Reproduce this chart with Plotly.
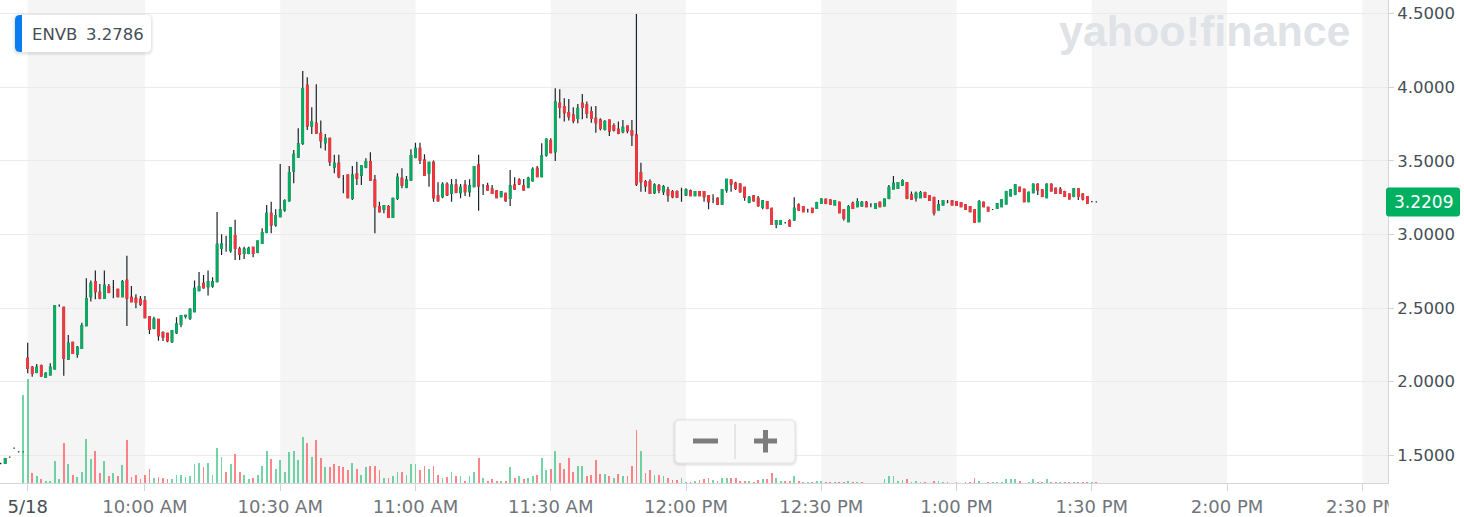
import plotly.graph_objects as go
import pandas as pd

# ---------------- data ----------------
FIRST_BAR = "2021-05-18 09:28"          # one-minute candles, 6 pre-open bars then the session
SESSION_OPEN_BAR = "2021-05-18 09:34"

opens = [
    1.445, 1.445, 1.487, 1.549, 1.523, 1.523,
    2.159, 2.098, 2.064, 2.109, 2.030, 2.046, 2.087, 2.520, 2.505, 2.154,
    2.268, 2.188, 2.227, 2.381, 2.578, 2.680, 2.607, 2.567, 2.646, 2.640,
    2.628, 2.578, 2.689, 2.573, 2.567, 2.560, 2.551, 2.442, 2.363, 2.424,
    2.333, 2.329, 2.272, 2.333, 2.390, 2.445, 2.431, 2.476, 2.619, 2.668,
    2.646, 2.650, 2.680, 2.906, 2.930, 2.890, 2.992, 2.901, 2.872, 2.872,
    2.913, 2.879, 2.940, 3.015, 3.144, 3.065, 3.121, 3.167, 3.230, 3.432,
    3.525, 3.620, 4.014, 3.737, 3.755, 3.688, 3.624, 3.654, 3.457, 3.484,
    3.380, 3.404, 3.246, 3.411, 3.404, 3.457, 3.495, 3.370, 3.189, 3.171,
    3.189, 3.117, 3.246, 3.382, 3.321, 3.370, 3.524, 3.586, 3.506, 3.416,
    3.490, 3.262, 3.257, 3.341, 3.280, 3.336, 3.284, 3.336, 3.291, 3.325,
    3.472, 3.330, 3.330, 3.309, 3.296, 3.257, 3.280, 3.246, 3.336, 3.370,
    3.330, 3.321, 3.366, 3.450, 3.393, 3.540, 3.638, 3.563, 3.891, 3.869,
    3.828, 3.812, 3.789, 3.891, 3.880, 3.835, 3.789, 3.778, 3.715, 3.778,
    3.740, 3.715, 3.699, 3.737, 3.706, 3.676, 3.420, 3.359, 3.359, 3.284,
    3.330, 3.291, 3.303, 3.291, 3.291, 3.300, 3.269, 3.296, 3.264, 3.291,
    3.291, 3.262, 3.240, 3.246, 3.207, 3.303, 3.370, 3.348, 3.343, 3.321,
    3.219, 3.262, 3.246, 3.185, 3.223, 3.178, 3.069, 3.069, 3.080, 3.094,
    3.099, 3.201, 3.189, 3.170, 3.178, 3.178, 3.212, 3.239, 3.234, 3.201,
    3.219, 3.167, 3.088, 3.212, 3.190, 3.194, 3.219, 3.205, 3.178, 3.219,
    3.194, 3.246, 3.310, 3.314, 3.337, 3.352, 3.269, 3.251, 3.251, 3.285,
    3.262, 3.251, 3.167, 3.201, 3.220, 3.228, 3.224, 3.217, 3.201, 3.190,
    3.167, 3.088, 3.219, 3.185, 3.170, 3.178, 3.190, 3.208, 3.262, 3.274,
    3.321, 3.307, 3.224, 3.285, 3.341, 3.303, 3.251, 3.341, 3.314, 3.307,
    3.292, 3.274, 3.258, 3.310, 3.274, 3.258, 3.224, 3.221,
]
highs = [
    1.447, 1.482, 1.492, 1.553, 1.527, 1.526,
    2.265, 2.107, 2.120, 2.116, 2.064, 2.125, 2.521, 2.525, 2.510, 2.318,
    2.272, 2.243, 2.401, 2.702, 2.687, 2.755, 2.664, 2.755, 2.664, 2.691,
    2.632, 2.691, 2.856, 2.650, 2.594, 2.583, 2.583, 2.447, 2.442, 2.428,
    2.342, 2.333, 2.351, 2.437, 2.453, 2.455, 2.499, 2.687, 2.745, 2.725,
    2.755, 2.709, 3.153, 3.001, 2.992, 3.047, 3.101, 2.917, 2.917, 2.917,
    2.917, 2.958, 3.042, 3.201, 3.223, 3.171, 3.479, 3.239, 3.466, 3.574,
    3.721, 4.111, 4.068, 3.864, 4.020, 3.774, 3.683, 3.654, 3.541, 3.541,
    3.404, 3.404, 3.466, 3.495, 3.466, 3.518, 3.558, 3.404, 3.223, 3.196,
    3.201, 3.250, 3.416, 3.450, 3.398, 3.579, 3.624, 3.624, 3.545, 3.490,
    3.502, 3.355, 3.355, 3.355, 3.377, 3.377, 3.343, 3.370, 3.375, 3.466,
    3.541, 3.343, 3.352, 3.336, 3.303, 3.296, 3.284, 3.438, 3.389, 3.382,
    3.377, 3.393, 3.457, 3.466, 3.620, 3.654, 3.654, 3.993, 3.986, 3.925,
    3.921, 3.864, 3.887, 3.955, 3.903, 3.869, 3.873, 3.789, 3.778, 3.778,
    3.755, 3.767, 3.778, 3.737, 3.778, 4.498, 3.488, 3.370, 3.375, 3.348,
    3.343, 3.336, 3.325, 3.303, 3.300, 3.318, 3.314, 3.305, 3.296, 3.296,
    3.296, 3.269, 3.273, 3.253, 3.307, 3.375, 3.375, 3.359, 3.348, 3.325,
    3.262, 3.269, 3.262, 3.235, 3.228, 3.182, 3.099, 3.099, 3.085, 3.103,
    3.253, 3.212, 3.194, 3.175, 3.182, 3.223, 3.246, 3.245, 3.240, 3.235,
    3.224, 3.171, 3.201, 3.224, 3.246, 3.228, 3.228, 3.212, 3.212, 3.224,
    3.242, 3.337, 3.398, 3.355, 3.375, 3.357, 3.292, 3.292, 3.296, 3.290,
    3.267, 3.258, 3.235, 3.235, 3.235, 3.232, 3.228, 3.221, 3.205, 3.194,
    3.172, 3.235, 3.224, 3.189, 3.174, 3.212, 3.240, 3.298, 3.307, 3.341,
    3.326, 3.312, 3.292, 3.348, 3.348, 3.307, 3.348, 3.348, 3.319, 3.323,
    3.297, 3.279, 3.316, 3.312, 3.280, 3.262, 3.227, 3.224,
]
lows = [
    1.440, 1.443, 1.483, 1.545, 1.520, 1.520,
    2.057, 2.034, 2.057, 2.034, 2.028, 2.046, 2.087, 2.510, 2.041, 2.154,
    2.188, 2.163, 2.227, 2.381, 2.544, 2.560, 2.560, 2.567, 2.601, 2.567,
    2.573, 2.573, 2.379, 2.539, 2.499, 2.515, 2.435, 2.324, 2.356, 2.279,
    2.277, 2.268, 2.263, 2.324, 2.370, 2.430, 2.419, 2.476, 2.619, 2.632,
    2.585, 2.639, 2.680, 2.861, 2.883, 2.876, 2.827, 2.827, 2.834, 2.865,
    2.845, 2.872, 2.940, 3.008, 3.008, 3.053, 3.121, 3.155, 3.223, 3.348,
    3.525, 3.608, 3.710, 3.683, 3.683, 3.586, 3.570, 3.466, 3.416, 3.382,
    3.280, 3.250, 3.235, 3.336, 3.336, 3.450, 3.370, 3.008, 3.149, 3.144,
    3.117, 3.117, 3.235, 3.314, 3.314, 3.366, 3.518, 3.479, 3.404, 3.325,
    3.223, 3.223, 3.246, 3.262, 3.223, 3.280, 3.246, 3.262, 3.257, 3.321,
    3.162, 3.269, 3.298, 3.275, 3.246, 3.253, 3.223, 3.194, 3.302, 3.336,
    3.298, 3.314, 3.359, 3.389, 3.389, 3.529, 3.552, 3.500, 3.789, 3.767,
    3.774, 3.755, 3.755, 3.783, 3.789, 3.760, 3.692, 3.706, 3.706, 3.669,
    3.699, 3.681, 3.688, 3.688, 3.601, 3.330, 3.291, 3.291, 3.275, 3.275,
    3.280, 3.269, 3.223, 3.246, 3.250, 3.223, 3.262, 3.260, 3.260, 3.260,
    3.223, 3.171, 3.212, 3.201, 3.201, 3.284, 3.291, 3.303, 3.284, 3.230,
    3.212, 3.223, 3.189, 3.171, 3.171, 3.065, 3.042, 3.065, 3.075, 3.053,
    3.094, 3.160, 3.151, 3.150, 3.144, 3.173, 3.207, 3.205, 3.200, 3.198,
    3.144, 3.095, 3.088, 3.173, 3.185, 3.189, 3.185, 3.185, 3.175, 3.185,
    3.190, 3.240, 3.310, 3.310, 3.330, 3.240, 3.235, 3.224, 3.246, 3.249,
    3.227, 3.129, 3.163, 3.197, 3.212, 3.197, 3.193, 3.186, 3.168, 3.152,
    3.079, 3.088, 3.185, 3.156, 3.166, 3.174, 3.185, 3.203, 3.258, 3.267,
    3.287, 3.219, 3.219, 3.280, 3.269, 3.253, 3.246, 3.292, 3.276, 3.276,
    3.254, 3.238, 3.253, 3.235, 3.231, 3.208, 3.220, 3.218,
]
closes = [
    1.445, 1.478, 1.487, 1.549, 1.523, 1.523,
    2.091, 2.057, 2.098, 2.039, 2.057, 2.098, 2.517, 2.520, 2.159, 2.261,
    2.193, 2.234, 2.381, 2.564, 2.668, 2.612, 2.567, 2.655, 2.607, 2.640,
    2.578, 2.678, 2.567, 2.544, 2.539, 2.526, 2.435, 2.356, 2.426, 2.313,
    2.302, 2.279, 2.347, 2.392, 2.449, 2.450, 2.492, 2.635, 2.646, 2.639,
    2.678, 2.678, 2.933, 2.935, 2.930, 3.047, 2.906, 2.865, 2.901, 2.906,
    2.872, 2.956, 3.013, 3.144, 3.065, 3.128, 3.167, 3.230, 3.420, 3.545,
    3.615, 3.991, 3.737, 3.767, 3.688, 3.638, 3.654, 3.495, 3.484, 3.393,
    3.380, 3.250, 3.404, 3.382, 3.466, 3.495, 3.370, 3.189, 3.155, 3.196,
    3.117, 3.246, 3.389, 3.336, 3.370, 3.536, 3.586, 3.506, 3.404, 3.490,
    3.250, 3.230, 3.341, 3.269, 3.336, 3.287, 3.321, 3.291, 3.330, 3.461,
    3.330, 3.330, 3.303, 3.280, 3.250, 3.289, 3.230, 3.330, 3.309, 3.343,
    3.303, 3.382, 3.443, 3.393, 3.534, 3.647, 3.556, 3.900, 3.864, 3.828,
    3.801, 3.774, 3.857, 3.864, 3.823, 3.789, 3.760, 3.721, 3.767, 3.703,
    3.710, 3.688, 3.728, 3.706, 3.676, 3.343, 3.359, 3.330, 3.280, 3.336,
    3.303, 3.325, 3.269, 3.257, 3.253, 3.300, 3.303, 3.264, 3.291, 3.264,
    3.257, 3.223, 3.240, 3.207, 3.303, 3.375, 3.343, 3.314, 3.291, 3.253,
    3.253, 3.230, 3.196, 3.228, 3.178, 3.069, 3.094, 3.094, 3.080, 3.058,
    3.178, 3.167, 3.155, 3.170, 3.151, 3.216, 3.241, 3.212, 3.207, 3.230,
    3.149, 3.110, 3.190, 3.178, 3.224, 3.219, 3.190, 3.205, 3.208, 3.190,
    3.240, 3.321, 3.348, 3.352, 3.366, 3.246, 3.240, 3.280, 3.285, 3.253,
    3.231, 3.149, 3.201, 3.231, 3.220, 3.201, 3.197, 3.190, 3.172, 3.156,
    3.083, 3.224, 3.190, 3.160, 3.170, 3.208, 3.235, 3.292, 3.303, 3.337,
    3.292, 3.224, 3.287, 3.341, 3.303, 3.258, 3.341, 3.296, 3.280, 3.280,
    3.258, 3.242, 3.310, 3.258, 3.242, 3.213, 3.224, 3.221,
]
volumes_k = [  # thousand shares (relative)
    0, 0, 0, 0, 0, 88,
    104, 9.7, 7, 4, 2.3, 2.3, 22, 4, 40, 19,
    8, 5.7, 11, 44, 24, 32, 10, 22, 7, 10,
    7, 18, 43, 6, 8, 4, 8, 14, 5, 6,
    5, 4, 4, 8, 8, 6, 7, 19, 20, 16,
    20, 8, 35, 26, 11, 19, 29, 11, 8, 4,
    5, 8, 17, 32, 24, 14, 23, 11, 31, 32,
    23, 46, 40, 26, 43, 25, 16, 16, 19, 17,
    16, 13, 20, 14, 8, 16, 17, 17, 13, 5,
    5, 7, 11, 11, 8, 19, 19, 13, 17, 14,
    17, 8, 5, 6, 11, 7, 7, 2.3, 7, 11,
    25, 5, 2.3, 4, 2.3, 2.3, 2.3, 16, 5, 7,
    4, 5, 7, 8, 25, 13, 14, 32, 20, 14,
    25, 11, 17, 17, 7, 8, 23, 9, 9, 7,
    5, 9, 7, 7, 17, 53, 32, 10, 13, 8.5,
    8.5, 7, 5, 3, 3, 5, 1.3, 1.3, 2.3, 3,
    4, 5, 3, 2.3, 5, 5, 5, 5, 2.3, 2.3,
    2.3, 1.3, 3, 4, 4, 10, 5, 2.3, 2.3, 2.3,
    7, 2.3, 1.3, 1.3, 1.3, 2.3, 2.3, 1.3, 0.7, 1.3,
    1.3, 1.3, 2.3, 1.3, 1.3, 1.3, 0.3, 0.3, 0.3, 0.3,
    4, 7, 7, 2.3, 3, 4, 1.3, 2.3, 1.3, 1.3,
    0.3, 2.3, 2.3, 1.3, 1.3, 0.3, 1.3, 0.3, 1.3, 1.3,
    5, 2.3, 0.5, 1.3, 1.3, 1.3, 1.3, 4, 4, 4,
    2.3, 0.5, 1.3, 4, 1.3, 1.3, 4, 1.3, 1.3, 1.3,
    1.3, 1.3, 1.3, 1.3, 1.3, 1.3, 1, 1,
]
tick_times = ["09:34", "10:00", "10:30", "11:00", "11:30", "12:00",
              "12:30", "13:00", "13:30", "14:00", "14:30"]
tick_labels = ["5/18", "10:00 AM", "10:30 AM", "11:00 AM", "11:30 AM", "12:00 PM",
               "12:30 PM", "1:00 PM", "1:30 PM", "2:00 PM", "2:30 PM"]
price_ticks = [1.5, 2.0, 2.5, 3.0, 3.5, 4.0, 4.5]
symbol = "ENVB"
quote_value = "3.2786"
last_price = 3.2209

# ---------------- style ----------------
W, H = 1464, 517
ML, MR, MT, MB = 0, 76, 0, 34
PW, PH = W - ML - MR, H - MT - MB
FONT = "DejaVu Sans"
GREEN, RED, WICK = "#00b061", "#ff333a", "#1e242b"
VOL_GREEN, VOL_RED = "rgba(0,176,97,0.55)", "rgba(255,51,58,0.6)"
BAND = "#f5f5f5"
AXIS = "#d3d6d9"
PX_PER_MIN = 4.509
FIRST_BAR_PX = 27.7
Y_RANGE = [1.3118, 4.5931]
VOL_RANGE = [0, PH]


def X(px):
    return (px - ML) / PW


def Y(py):
    return 1 - (py - MT) / PH


def rrect(x0, y0, x1, y1, r):
    return (f"M {X(x0 + r)},{Y(y0)} L {X(x1 - r)},{Y(y0)} Q {X(x1)},{Y(y0)} {X(x1)},{Y(y0 + r)} "
            f"L {X(x1)},{Y(y1 - r)} Q {X(x1)},{Y(y1)} {X(x1 - r)},{Y(y1)} "
            f"L {X(x0 + r)},{Y(y1)} Q {X(x0)},{Y(y1)} {X(x0)},{Y(y1 - r)} "
            f"L {X(x0)},{Y(y0 + r)} Q {X(x0)},{Y(y0)} {X(x0 + r)},{Y(y0)} Z")


def left_round(x0, y0, x1, y1, r):
    return (f"M {X(x1)},{Y(y0)} L {X(x0 + r)},{Y(y0)} Q {X(x0)},{Y(y0)} {X(x0)},{Y(y0 + r)} "
            f"L {X(x0)},{Y(y1 - r)} Q {X(x0)},{Y(y1)} {X(x0 + r)},{Y(y1)} L {X(x1)},{Y(y1)} Z")


times = pd.date_range(FIRST_BAR, periods=len(opens), freq="min")
day = FIRST_BAR.split(" ")[0]
tickvals = [pd.Timestamp(f"{day} {t}") for t in tick_times]
open_bar = pd.Timestamp(SESSION_OPEN_BAR)
x_left = open_bar - pd.Timedelta(minutes=FIRST_BAR_PX / PX_PER_MIN)
x_right = open_bar + pd.Timedelta(minutes=(PW - FIRST_BAR_PX) / PX_PER_MIN)

# bodies (non-doji)
idx_body = [i for i in range(len(opens)) if opens[i] != closes[i]]
vol_colors = []
for i in range(len(closes)):
    ref = closes[i - 1] if i > 0 else opens[i]
    vol_colors.append(VOL_GREEN if closes[i] >= ref else VOL_RED)

fig = go.Figure()
fig.add_trace(go.Bar(
    x=times, y=volumes_k, yaxis="y2", width=0.4 * 60000,
    marker=dict(color=vol_colors, line=dict(width=0)),
    hoverinfo="skip", showlegend=False))
fig.add_trace(go.Candlestick(
    x=times, open=opens, high=highs, low=lows, close=closes,
    increasing=dict(line=dict(color=WICK, width=1.2), fillcolor=WICK),
    decreasing=dict(line=dict(color=WICK, width=1.2), fillcolor=WICK),
    whiskerwidth=0, hoverinfo="skip", showlegend=False))
fig.add_trace(go.Candlestick(
    x=[times[i] for i in idx_body],
    open=[opens[i] for i in idx_body],
    close=[closes[i] for i in idx_body],
    high=[max(opens[i], closes[i]) for i in idx_body],
    low=[min(opens[i], closes[i]) for i in idx_body],
    increasing=dict(line=dict(color=GREEN, width=1.2), fillcolor=GREEN),
    decreasing=dict(line=dict(color=RED, width=1.2), fillcolor=RED),
    whiskerwidth=0, hoverinfo="skip", showlegend=False))

shapes = []
# alternating half-hour bands
band_edges = tickvals + [x_right]
for k in range(0, len(band_edges) - 1, 2):
    shapes.append(dict(type="rect", xref="x", yref="paper", x0=band_edges[k], x1=band_edges[k + 1],
                       y0=0, y1=1, fillcolor=BAND, line=dict(width=0), layer="below"))
# hide the clipped part of the last time label
shapes.append(dict(type="rect", xref="paper", yref="paper", x0=X(PW + 0.6), x1=1.07,
                   y0=Y(H + 2), y1=Y(PH + 1), fillcolor="white", line=dict(width=0), layer="above"))
# symbol box
for k, a in enumerate([0.035, 0.03, 0.025]):
    g = k + 1
    shapes.append(dict(type="path", xref="paper", yref="paper",
                       path=rrect(15 - g, 15 - g + 1, 151 + g, 52 + g + 1, 5 + g),
                       fillcolor=f"rgba(0,0,0,{a})", line=dict(width=0), layer="above"))
shapes.append(dict(type="path", xref="paper", yref="paper", path=rrect(15, 15, 151, 52, 5),
                   fillcolor="white", line=dict(width=0), layer="above"))
shapes.append(dict(type="path", xref="paper", yref="paper", path=left_round(15, 15, 22, 52, 5),
                   fillcolor="#0a7cf2", line=dict(width=0), layer="above"))
# zoom control
for k, a in enumerate([0.04, 0.03, 0.02]):
    g = k + 1
    shapes.append(dict(type="path", xref="paper", yref="paper",
                       path=rrect(675 - g, 420 - g + 1, 795 + g, 463 + g + 1, 5 + g),
                       fillcolor=f"rgba(0,0,0,{a})", line=dict(width=0), layer="above"))
shapes.append(dict(type="path", xref="paper", yref="paper", path=rrect(675, 420, 795, 463, 5),
                   fillcolor="rgba(250,250,250,0.96)", line=dict(color="#e4e4e4", width=1), layer="above"))
shapes.append(dict(type="line", xref="paper", yref="paper", x0=X(735), x1=X(735), y0=Y(424), y1=Y(459),
                   line=dict(color="#dedede", width=1.5), layer="above"))
shapes.append(dict(type="line", xref="paper", yref="paper", x0=X(693), x1=X(718), y0=Y(441), y1=Y(441),
                   line=dict(color="#7d7d7d", width=5), layer="above"))
shapes.append(dict(type="line", xref="paper", yref="paper", x0=X(754), x1=X(777), y0=Y(441), y1=Y(441),
                   line=dict(color="#7d7d7d", width=5), layer="above"))
shapes.append(dict(type="line", xref="paper", yref="paper", x0=X(765.5), x1=X(765.5), y0=Y(430), y1=Y(452.5),
                   line=dict(color="#7d7d7d", width=5), layer="above"))
# last price tag
half = 14.5 * (Y_RANGE[1] - Y_RANGE[0]) / PH
r_y = 3 * (Y_RANGE[1] - Y_RANGE[0]) / PH
x0p, x1p, rx = X(1386), X(1460), 3 / PW
y0p, y1p = last_price - half, last_price + half
shapes.append(dict(type="path", xref="paper", yref="y", layer="above", fillcolor=GREEN, line=dict(width=0),
                   path=(f"M {x0p + rx},{y1p} L {x1p - rx},{y1p} Q {x1p},{y1p} {x1p},{y1p - r_y} "
                         f"L {x1p},{y0p + r_y} Q {x1p},{y0p} {x1p - rx},{y0p} L {x0p + rx},{y0p} "
                         f"Q {x0p},{y0p} {x0p},{y0p + r_y} L {x0p},{y1p - r_y} Q {x0p},{y1p} {x0p + rx},{y1p} Z")))

annotations = [
    dict(xref="paper", yref="paper", x=X(29.5), y=Y(34), xanchor="left", yanchor="middle",
         text=symbol, showarrow=False, font=dict(family=FONT, size=16.5, color="#464e56")),
    dict(xref="paper", yref="paper", x=X(84), y=Y(34), xanchor="left", yanchor="middle",
         text=quote_value, showarrow=False, font=dict(family=FONT, size=16.5, color="#464e56")),
    dict(xref="paper", yref="paper", x=X(1205), y=Y(31), xanchor="center", yanchor="middle",
         text="<b>yahoo!finance</b>", showarrow=False,
         font=dict(family="Liberation Sans", size=43, color="#dfe2e6")),
    dict(xref="paper", yref="y", x=X(1423), y=last_price, xanchor="center", yanchor="middle",
         text=f"{last_price:.4f}", showarrow=False, font=dict(family=FONT, size=17, color="white")),
]

ticktext = [f"<span style='color:#464e56'>{t}</span>" if i == 0 else t for i, t in enumerate(tick_labels)]

fig.update_layout(
    width=W, height=H, autosize=False,
    margin=dict(l=ML, r=MR, t=MT, b=MB),
    paper_bgcolor="white", plot_bgcolor="white",
    showlegend=False, boxgap=0.55, bargap=0,
    shapes=shapes, annotations=annotations,
    xaxis=dict(type="date", range=[x_left, x_right], tickvals=tickvals, ticktext=ticktext,
               ticks="outside", ticklen=7, tickcolor=AXIS, tickwidth=1,
               showline=True, linecolor=AXIS, linewidth=1, showgrid=False, zeroline=False,
               rangeslider=dict(visible=False), fixedrange=True,
               tickfont=dict(family=FONT, size=18, color="#70757b")),
    yaxis=dict(range=Y_RANGE, side="right", tickvals=price_ticks, tickformat=".4f",
               ticks="outside", ticklen=5, tickcolor=AXIS, showline=True, linecolor=AXIS,
               showgrid=True, gridcolor="#ebebeb", gridwidth=1, zeroline=False, fixedrange=True,
               tickfont=dict(family=FONT, size=16.5, color="#464e56")),
    yaxis2=dict(overlaying="y", range=VOL_RANGE, visible=False, fixedrange=True),
)

fig.write_html("out.html", config={"displayModeBar": False},
               post_script="document.body.style.margin='0px';document.body.style.overflow='hidden';")
